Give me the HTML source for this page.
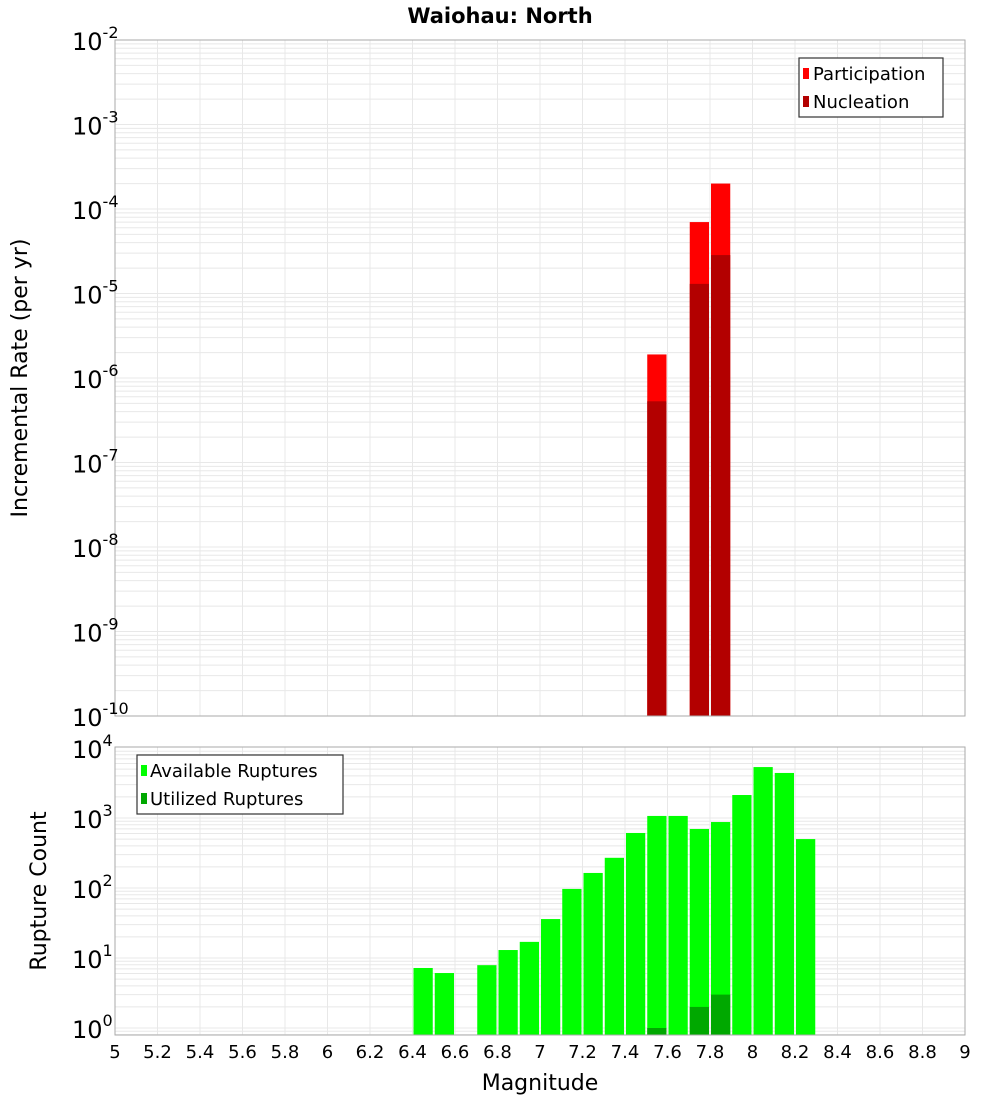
<!DOCTYPE html>
<html><head><meta charset="utf-8"><style>
body{margin:0;background:#fff;}
svg{display:block;font-family:"DejaVu Sans","Liberation Sans",sans-serif;}
</style></head><body>
<svg id="c" width="1000" height="1100" viewBox="0 0 1000 1100" xmlns="http://www.w3.org/2000/svg">
<text x="500" y="23" text-anchor="middle" font-size="21" font-weight="bold">Waiohau: North</text>
<g id="grid"></g>
<g id="bars"></g>
<g id="axes"></g>
<text transform="translate(27,378) rotate(-90)" text-anchor="middle" font-size="22">Incremental Rate (per yr)</text>
<text transform="translate(46,891) rotate(-90)" text-anchor="middle" font-size="22">Rupture Count</text>
<text x="540" y="1090" text-anchor="middle" font-size="22">Magnitude</text>
<g>
<rect x="799" y="58" width="144" height="59" fill="#fff" stroke="#333" stroke-width="1.2"/>
<rect x="803" y="68" width="6" height="11" fill="#ff0000"/>
<text x="813" y="80" font-size="18">Participation</text>
<rect x="803" y="96" width="6" height="11" fill="#b30000"/>
<text x="813" y="108" font-size="18">Nucleation</text>
</g>
<g>
<rect x="137" y="755" width="206" height="59" fill="#fff" stroke="#333" stroke-width="1.2"/>
<rect x="141" y="765" width="6" height="11" fill="#00ff00"/>
<text x="150" y="777" font-size="18">Available Ruptures</text>
<rect x="141" y="793" width="6" height="11" fill="#00a800"/>
<text x="150" y="805" font-size="18">Utilized Ruptures</text>
</g>
</svg>
<script>
const topMags=[7.55,7.75,7.85];
const participation=[1.9e-6,7e-5,2.0e-4];
const nucleation=[5.3e-7,1.3e-5,2.85e-5];
const botMags=[6.45,6.55,6.75,6.85,6.95,7.05,7.15,7.25,7.35,7.45,7.55,7.65,7.75,7.85,7.95,8.05,8.15,8.25];
const available=[7.2,6.1,7.9,13,17,36,97,164,270,611,1070,1070,697,876,2130,5340,4400,500];
const utilMags=[7.55,7.75,7.85];
const utilized=[1,2,3];
const xTicks=[5,5.2,5.4,5.6,5.8,6,6.2,6.4,6.6,6.8,7,7.2,7.4,7.6,7.8,8,8.2,8.4,8.6,8.8,9];
const topExps=[-10,-9,-8,-7,-6,-5,-4,-3,-2];
const botExps=[0,1,2,3,4];

const NS='http://www.w3.org/2000/svg';
const L=115,R=965;
const x=m=>L+(m-5)*(R-L)/4;
const yTop=v=>40+(-2-Math.log10(v))*84.5;
const T_TOP=40,T_BOT=716;
const yBot=v=>1028-Math.log10(v)*70;
const B_TOP=747,B_BOT=1035;
function el(tag,attrs,parent){const e=document.createElementNS(NS,tag);for(const k in attrs)e.setAttribute(k,attrs[k]);parent.appendChild(e);return e;}
const grid=document.getElementById('grid'),bars=document.getElementById('bars'),axes=document.getElementById('axes');

// grids
function logGrid(y0,y1,yf,e0,e1){
 for(let e=e0;e<e1;e++){for(let k=1;k<10;k++){const y=yf(k*Math.pow(10,e));if(y<y0||y>y1)continue;
  const g=el('line',{x1:L,x2:R,y1:y,y2:y,stroke:'#e8e8e8','stroke-width':1},grid);
  
  }}
 xTicks.forEach(m=>{const g=el('line',{x1:x(m),x2:x(m),y1:y0,y2:y1,stroke:'#e8e8e8','stroke-width':1},grid);
  
  });
}
logGrid(T_TOP,T_BOT,yTop,-10,-1);
logGrid(B_TOP,B_BOT,yBot,-1,4);

const bw=(R-L)/40-2;
topMags.forEach((m,i)=>{
 const yp=yTop(participation[i]);
 const r=el('rect',{x:x(m)-bw/2,y:yp,width:bw,height:T_BOT-yp,fill:'#ff0000'},bars);
 
 
 const yn=yTop(nucleation[i]);
 const n=el('rect',{x:x(m)-bw/2,y:yn,width:bw,height:T_BOT-yn,fill:'#b30000'},bars);
 
 
});
botMags.forEach((m,i)=>{
 const y=yBot(available[i]);
 const r=el('rect',{x:x(m)-bw/2,y:y,width:bw,height:B_BOT-y,fill:'#00ff00'},bars);
 
 
});
utilMags.forEach((m,i)=>{
 const y=yBot(utilized[i]);
 const r=el('rect',{x:x(m)-bw/2,y:y,width:bw,height:B_BOT-y,fill:'#00a800'},bars);
 
 
});

// frames
const f1=el('rect',{x:L,y:T_TOP,width:R-L,height:T_BOT-T_TOP,fill:'none',stroke:'#aaa'},axes);


const f2=el('rect',{x:L,y:B_TOP,width:R-L,height:B_BOT-B_TOP,fill:'none',stroke:'#aaa'},axes);



function expLabel(e,y,name){
 const t=el('text',{x:108,y:y+10,'text-anchor':'end','font-size':24},axes);
 
 
 const s=String(e);
 t.innerHTML='10<tspan dy="-12" font-size="16">'+s+'</tspan>';
 t.setAttribute('x',72);t.setAttribute('text-anchor','start');
}
topExps.forEach(e=>expLabel(e,yTop(Math.pow(10,e)),'top-y-tick-label'));
botExps.forEach(e=>expLabel(e,yBot(Math.pow(10,e)),'bottom-y-tick-label'));
xTicks.forEach(m=>{
 const t=el('text',{x:x(m),y:1058,'text-anchor':'middle','font-size':18},axes);
 
 
 t.textContent=String(m);
});
</script>
</body></html>
